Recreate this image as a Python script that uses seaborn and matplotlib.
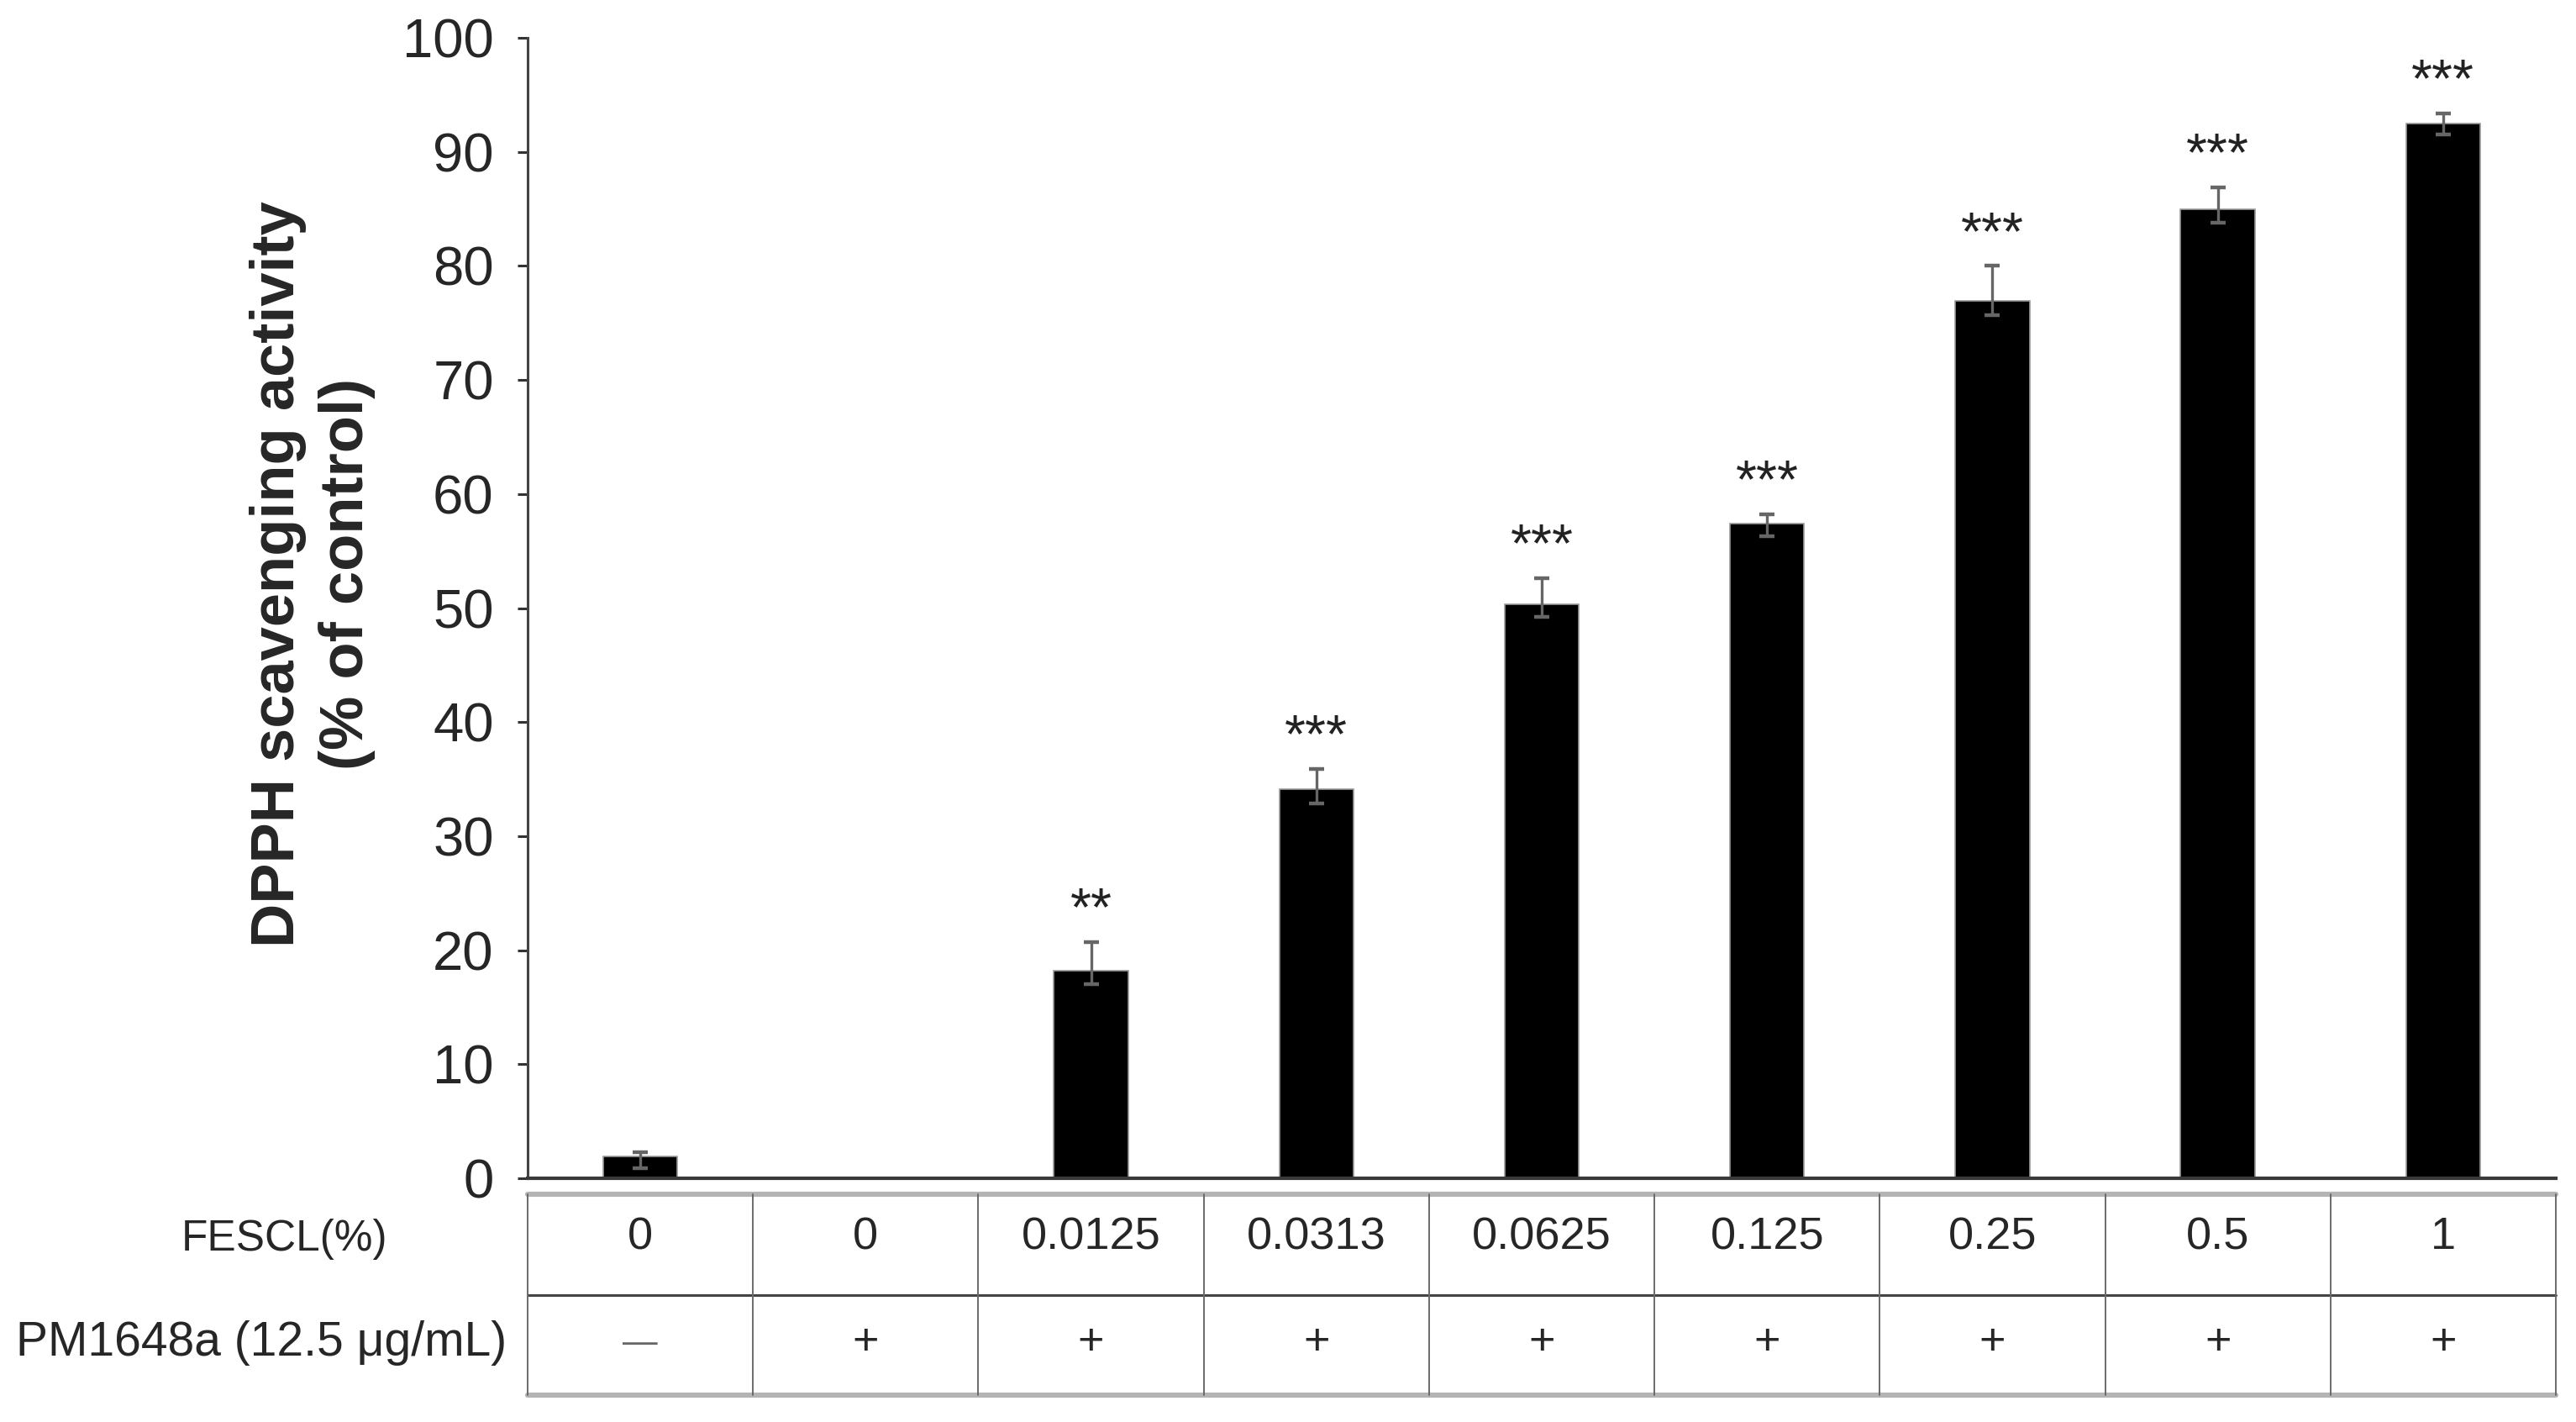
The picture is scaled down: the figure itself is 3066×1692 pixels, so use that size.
import numpy as np
import pandas as pd
import seaborn as sns
import matplotlib.pyplot as plt

# data
fescl = ['0', '0', '0.0125', '0.0313', '0.0625', '0.125', '0.25', '0.5', '1']
pm1648a = ['\u2014', '+', '+', '+', '+', '+', '+', '+', '+']
dpph = [1.9, 0.0, 18.2, 34.1, 50.3, 57.4, 76.9, 85.0, 92.5]
err_low = [1.0, np.nan, 1.2, 1.2, 1.1, 1.1, 1.2, 1.2, 1.0]
err_high = [0.4, np.nan, 2.5, 1.8, 2.3, 0.8, 3.1, 1.9, 0.9]
stars = ['', '', '**', '***', '***', '***', '***', '***', '***']

row_labels = ['FESCL(%)', 'PM1648a (12.5 \u03bcg/mL)']
y_label = 'DPPH scavenging activity\n(% of control)'

df = pd.DataFrame({'group': [f'{a}|{b}|{i}' for i, (a, b) in enumerate(zip(fescl, pm1648a))],
                   'dpph': dpph})

sns.set_style('white')
plt.rcParams['font.family'] = ['Liberation Sans', 'DejaVu Sans']

fig = plt.figure(figsize=(15.33, 8.46), dpi=200)
left, right = 628 / 3066, 3042 / 3066
ax = fig.add_axes([left, 1 - 1402 / 1692, right - left, (1402 - 45) / 1692])

sns.barplot(data=df, x='group', y='dpph', order=df['group'], color='black',
            width=0.33, edgecolor='#9a9a9a', linewidth=0.6, saturation=1, ax=ax)

pos = np.arange(len(dpph))
ax.errorbar(pos, dpph, yerr=[err_low, err_high], fmt='none', ecolor='#666666',
            elinewidth=1.2, capsize=3.4, capthick=1.6, zorder=5)

# significance marks
for x, v, e, s in zip(pos, dpph, err_high, stars):
    if s:
        ax.text(x, v + e + 2.7, s, ha='center', va='center', fontsize=23, color='#222222')

ax.set_xlim(-0.5, len(dpph) - 0.5)
ax.set_ylim(0, 100)
ax.set_yticks(range(0, 101, 10))
ax.set_xticks([])
ax.set_xlabel('')
ax.set_ylabel(y_label, fontsize=26, fontweight='bold', linespacing=1.25)
ax.yaxis.label.set_va('center')
ax.yaxis.set_label_coords(-0.106, 0.53)
ax.tick_params(axis='y', direction='out', length=4.5, width=1.1, color='#333333',
               pad=10, labelsize=23.5, left=True)

sns.despine(ax=ax, top=True, right=True)
ax.spines['left'].set_color('#444444')
ax.spines['left'].set_linewidth(1.1)
ax.spines['bottom'].set_color('#3a3a3a')
ax.spines['bottom'].set_linewidth(1.5)

# table under the bars
tb = fig.add_axes([left, 1 - 1660 / 1692, right - left, (1660 - 1421) / 1692])
tb.set_xlim(-0.5, len(dpph) - 0.5)
tb.set_ylim(0, 2)
tb.axis('off')
tb.axhline(2, color='#b4b4b4', lw=2.2, clip_on=False)
tb.axhline(0, color='#b4b4b4', lw=2.2, clip_on=False)
tb.axhline(1, color='#444444', lw=1.1, clip_on=False)
for k in range(len(dpph) + 1):
    tb.axvline(k - 0.5, color='#6a6a6a', lw=0.7, clip_on=False)

for i, (a, b) in enumerate(zip(fescl, pm1648a)):
    tb.text(i, 1.57, a, ha='center', va='center', fontsize=19.5)
    if b == '+':
        tb.text(i, 0.52, b, ha='center', va='center', fontsize=19.5)
    else:
        tb.text(i, 0.52, b, ha='center', va='center', fontsize=15, color='#666666')

tb.text(-1.58, 1.55, row_labels[0], ha='center', va='center', fontsize=18.5, clip_on=False)
tb.text(-1.68, 0.52, row_labels[1], ha='center', va='center', fontsize=20.5, clip_on=False)

fig.savefig('out.png', dpi=200)
